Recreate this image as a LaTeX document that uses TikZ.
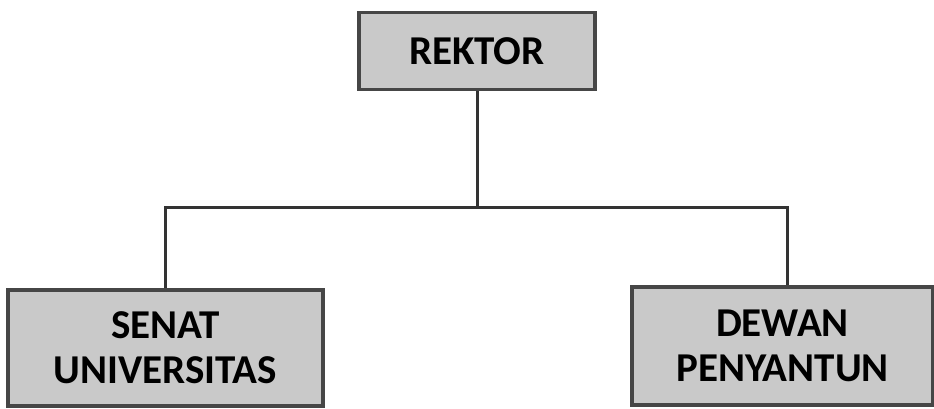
\documentclass[tikz,border=0pt]{standalone}
\usepackage{fontspec}
\setmainfont{Carlito}
\usepackage{tikz}
\usetikzlibrary{calc}
\definecolor{boxfill}{RGB}{201,201,201}
\definecolor{boxline}{RGB}{70,70,70}
\tikzset{box/.style={draw=boxline,fill=boxfill,line width=3.5pt,inner sep=0pt,align=center,font=\fontsize{41}{45}\selectfont\bfseries}}
\tikzset{link/.style={line width=3pt,draw=black!80}}

\begin{document}
\begin{tikzpicture}[x=1pt,y=-1pt]
  \useasboundingbox (0,0) rectangle (934,408);
  \node[box,minimum width=236pt,minimum height=77pt] (rektor) at (477,51) {REKTOR};
  \node[box,minimum width=315pt,minimum height=116pt] (senat) at (165.5,348) {SENAT\\UNIVERSITAS};
  \node[box,minimum width=301pt,minimum height=118pt] (dewan) at (782.5,346) {DEWAN\\PENYANTUN};
  \coordinate (bar) at (477,207);
  \draw[link] (rektor.south) -- (bar);
  \draw[link] (senat.north) |- (bar) -| ([xshift=4.5pt]dewan.north);
\end{tikzpicture}
\end{document}
